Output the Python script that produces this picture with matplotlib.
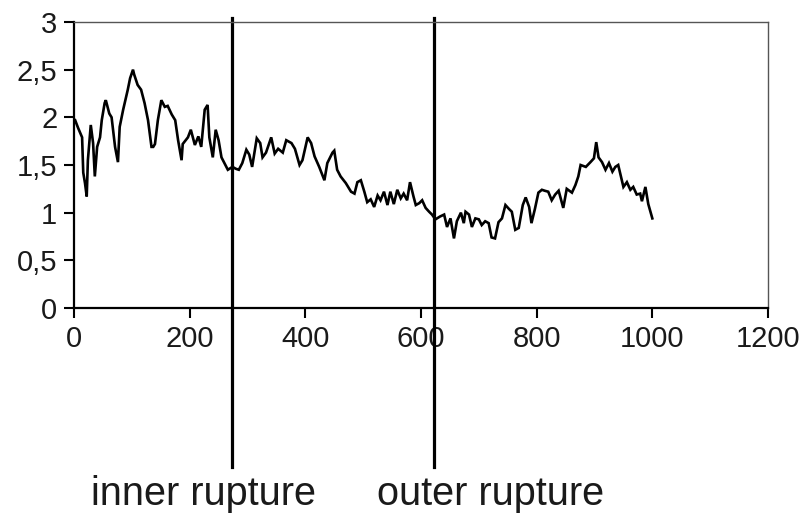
"""Signal profile with inner and outer rupture positions marked."""

import matplotlib
matplotlib.use("Agg")
import matplotlib.pyplot as plt
from matplotlib.ticker import FuncFormatter

pos = [2, 7, 14, 16, 19, 22, 24, 29, 33, 36, 40, 45, 48, 53, 55, 61, 65, 71, 76, 79,
       85, 88, 93, 97, 102, 104, 110, 116, 122, 128, 134, 137, 140, 145, 151, 157, 162,
       169, 175, 180, 186, 188, 197, 202, 209, 215, 220, 226, 231, 234, 240, 245, 250,
       255, 260, 266, 274, 280, 285, 291, 298, 303, 308, 316, 322, 326, 332, 341, 347,
       353, 361, 367, 376, 382, 390, 395, 404, 410, 416, 424, 433, 438, 447, 450, 455,
       461, 470, 479, 485, 490, 496, 502, 507, 513, 519, 525, 530, 536, 542, 547, 553,
       559, 565, 570, 576, 581, 587, 591, 597, 602, 608, 614, 619, 625, 633, 640, 645,
       651, 657, 662, 669, 674, 677, 683, 688, 694, 700, 705, 711, 717, 722, 728, 734,
       740, 746, 752, 757, 763, 769, 776, 781, 787, 791, 797, 803, 809, 814, 820, 826,
       832, 838, 846, 852, 861, 867, 872, 876, 885, 893, 899, 903, 907, 913, 919, 925,
       931, 936, 941, 950, 956, 962, 967, 973, 979, 982, 988, 993, 1000]
vals = [1.97, 1.89, 1.79, 1.42, 1.31, 1.17, 1.55, 1.92, 1.73, 1.38, 1.69, 1.79, 1.97, 2.15,
        2.18, 2.04, 2.00, 1.69, 1.53, 1.90, 2.08, 2.16, 2.29, 2.41, 2.50, 2.45, 2.34, 2.29,
        2.15, 1.97, 1.69, 1.69, 1.72, 1.97, 2.18, 2.11, 2.12, 2.03, 1.97, 1.76, 1.55, 1.72,
        1.79, 1.87, 1.71, 1.80, 1.69, 2.08, 2.13, 1.79, 1.58, 1.87, 1.76, 1.58, 1.52, 1.45,
        1.48, 1.46, 1.45, 1.52, 1.66, 1.61, 1.48, 1.78, 1.73, 1.58, 1.63, 1.79, 1.62, 1.67,
        1.63, 1.76, 1.73, 1.67, 1.50, 1.55, 1.79, 1.73, 1.59, 1.48, 1.34, 1.52, 1.63, 1.65,
        1.45, 1.38, 1.31, 1.22, 1.20, 1.32, 1.34, 1.22, 1.11, 1.14, 1.06, 1.18, 1.13, 1.22,
        1.08, 1.22, 1.09, 1.24, 1.15, 1.20, 1.13, 1.32, 1.17, 1.08, 1.10, 1.13, 1.05, 1.01,
        0.98, 0.93, 0.96, 0.98, 0.85, 0.94, 0.73, 0.91, 1.00, 0.89, 1.01, 0.98, 0.85, 0.94,
        0.93, 0.87, 0.91, 0.89, 0.74, 0.73, 0.90, 0.94, 1.08, 1.04, 1.01, 0.82, 0.84, 1.08,
        1.16, 1.06, 0.89, 1.04, 1.21, 1.24, 1.23, 1.22, 1.13, 1.19, 1.23, 1.05, 1.25, 1.21,
        1.29, 1.38, 1.50, 1.48, 1.53, 1.57, 1.74, 1.58, 1.53, 1.45, 1.52, 1.43, 1.48, 1.50,
        1.27, 1.32, 1.24, 1.27, 1.19, 1.20, 1.12, 1.27, 1.09, 0.94]

rupture_pos = [274, 622]
rupture_labels = ["inner rupture", "outer rupture"]

x_ticks = [0, 200, 400, 600, 800, 1000, 1200]
y_ticks = [0, 0.5, 1, 1.5, 2, 2.5, 3]

plt.rcParams["font.family"] = ["Liberation Sans", "DejaVu Sans"]

fig = plt.figure(figsize=(8.05, 5.16), dpi=100)
ax = fig.add_axes([74 / 805, 1 - 308 / 516, 694 / 805, 286 / 516])

ax.plot(pos, vals, color="black", lw=1.9, solid_joinstyle="miter")

ax.set_xlim(0, 1200)
ax.set_ylim(0, 3)
ax.set_xticks(x_ticks)
ax.set_yticks(y_ticks)
ax.yaxis.set_major_formatter(FuncFormatter(lambda v, p: f"{v:g}".replace(".", ",")))
ax.tick_params(direction="out", length=7, width=1.5, labelsize=21, color="black",
               labelcolor="#1a1a1a")
ax.tick_params(axis="x", pad=5)
ax.tick_params(axis="y", pad=5)

for side in ["left", "bottom"]:
    ax.spines[side].set_linewidth(1.6)
for side in ["top", "right"]:
    ax.spines[side].set_linewidth(1.0)
    ax.spines[side].set_color("#555555")

# rupture markers run from above the frame down to the labels
for x, label in zip(rupture_pos, rupture_labels):
    ax.plot([x, x], [3.04, -1.67], color="black", lw=2.3, clip_on=False)

fig.text(203 / 805, 1 - 494 / 516, rupture_labels[0], fontsize=28.5,
         ha="center", va="center", color="#1a1a1a")
fig.text(491 / 805, 1 - 494 / 516, rupture_labels[1], fontsize=28.5,
         ha="center", va="center", color="#1a1a1a")

fig.savefig("out.png", dpi=100)
